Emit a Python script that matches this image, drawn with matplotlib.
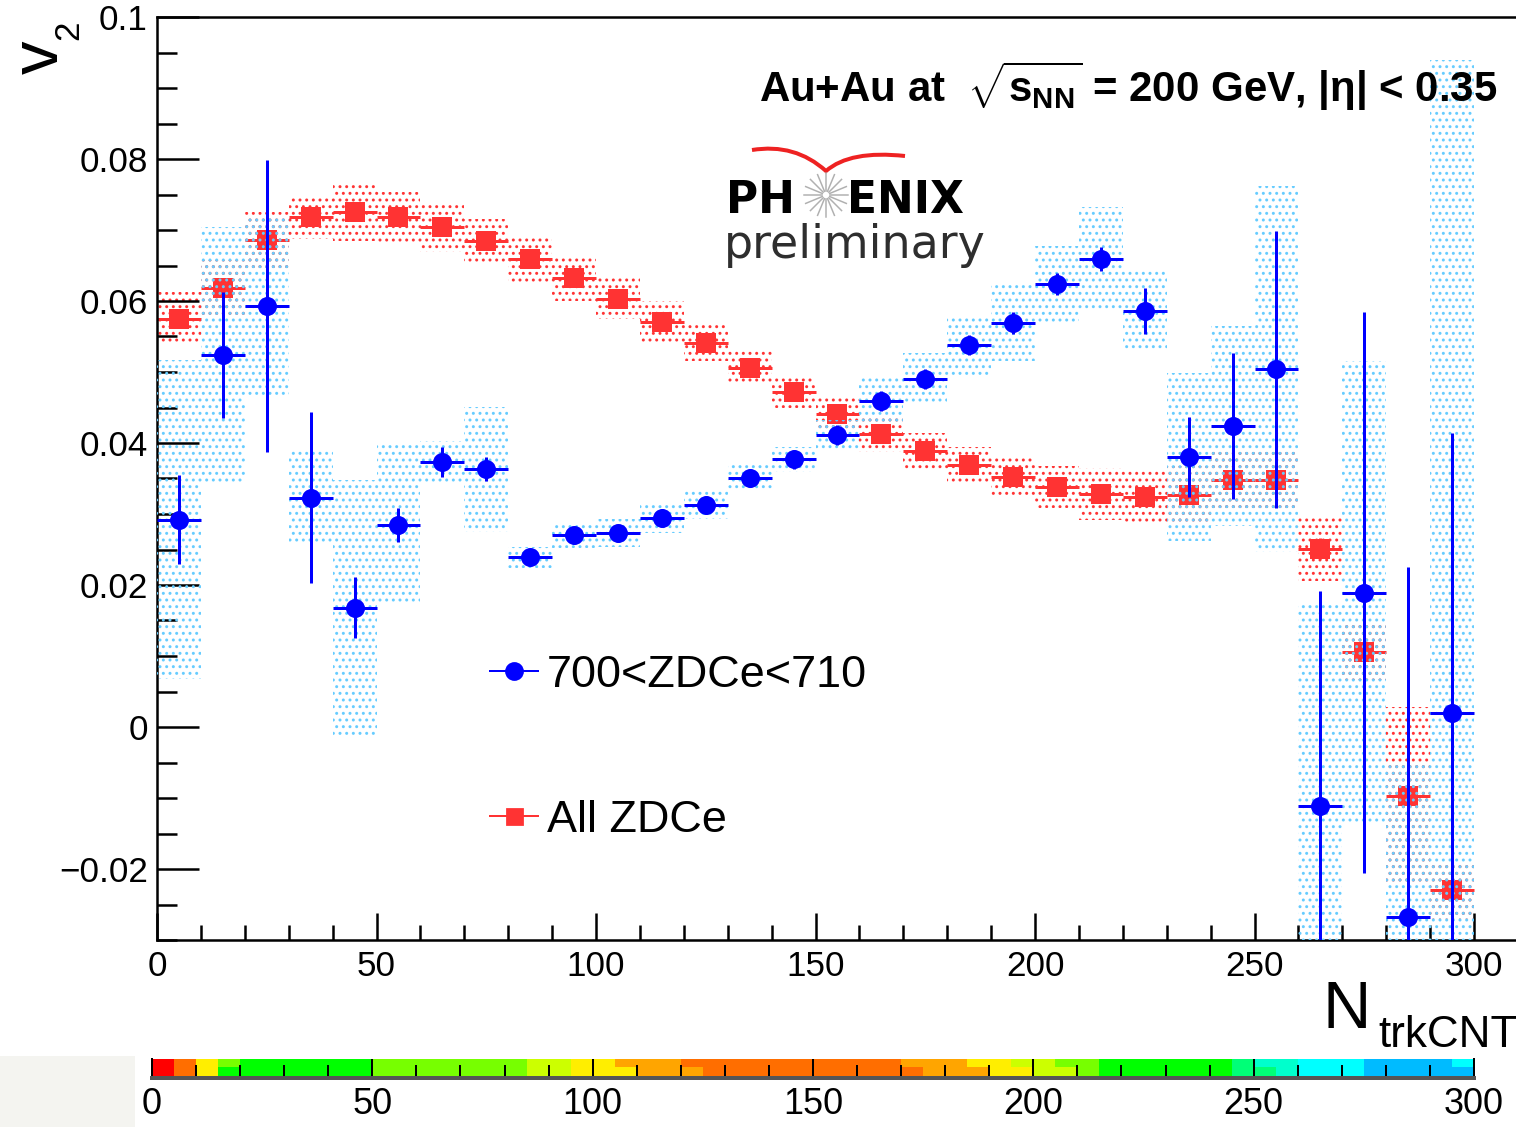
import numpy as np
import matplotlib
matplotlib.use('Agg')
import matplotlib.pyplot as plt
from matplotlib.lines import Line2D
from matplotlib.path import Path
from matplotlib.patches import PathPatch, Rectangle

W, H, DPI = 1516, 1127, 200

plt.rcParams['font.family'] = ['Liberation Sans', 'DejaVu Sans']
plt.rcParams['mathtext.fontset'] = 'custom'
plt.rcParams['mathtext.rm'] = 'Liberation Sans:bold'
plt.rcParams['mathtext.it'] = 'Liberation Sans:bold'
plt.rcParams['mathtext.bf'] = 'Liberation Sans:bold'
plt.rcParams['hatch.linewidth'] = 0.6


def pt(p):
    # pixel size -> points
    return p * 72.0 / DPI


def fx(x):
    # pixel column -> figure fraction
    return x / W


def fy(y):
    # pixel row (from the top) -> figure fraction
    return 1 - y / H


# ── data ────────────────────────────────────────────────────
ntrk = np.arange(5, 300, 10)   # bin centres, bin width 10

# 700 < ZDCe < 710
v2_zdc = np.array([0.0292, 0.0524, 0.0593, 0.0323, 0.0168, 0.0285, 0.0373, 0.0363,
                   0.0239, 0.0270, 0.0273, 0.0294, 0.0313, 0.0351, 0.0377, 0.0411,
                   0.0459, 0.0490, 0.0538, 0.0569, 0.0624, 0.0659, 0.0586, 0.0380,
                   0.0424, 0.0504, -0.0111, 0.0189, -0.0268, 0.0020])
stat_zdc = np.array([0.0063, 0.0089, 0.0205, 0.0120, 0.0043, 0.0024, 0.0021, 0.0017,
                     0.0012, 0.0012, 0.0012, 0.0013, 0.0013, 0.0013, 0.0013, 0.0014,
                     0.0014, 0.0014, 0.0014, 0.0015, 0.0016, 0.0017, 0.0032, 0.0056,
                     0.0103, 0.0195, 0.0303, 0.0395, 0.0494, 0.0394])
sys_zdc = np.array([0.0225, 0.0180, 0.0125, 0.0067, 0.0180, 0.0112, 0.0030, 0.0088,
                    0.0015, 0.0018, 0.0020, 0.0021, 0.0020, 0.0018, 0.0018, 0.0021,
                    0.0032, 0.0037, 0.0042, 0.0054, 0.0054, 0.0073, 0.0056, 0.0118,
                    0.0141, 0.0258, 0.0285, 0.0327, 0.0215, 0.0920])

# All ZDCe
v2_all = np.array([0.0575, 0.0618, 0.0686, 0.0718, 0.0725, 0.0718, 0.0704, 0.0685,
                   0.0659, 0.0632, 0.0603, 0.0570, 0.0541, 0.0506, 0.0472, 0.0441,
                   0.0413, 0.0389, 0.0369, 0.0352, 0.0338, 0.0328, 0.0324, 0.0327,
                   0.0348, 0.0348, 0.0251, 0.0106, -0.0097, -0.0230])
stat_all = np.array([0.0010] * 26 + [0.0015, 0.0017, 0.0023, 0.0042])
sys_all = np.array([0.0037, 0.0040, 0.0040, 0.0030, 0.0040, 0.0035, 0.0035, 0.0030,
                    0.0032, 0.0032, 0.0029, 0.0030, 0.0026, 0.0025, 0.0023, 0.0022,
                    0.0025, 0.0025, 0.0025, 0.0027, 0.0030, 0.0037, 0.0038, 0.0040,
                    0.0040, 0.0040, 0.0046, 0.0040, 0.0125, 0.0040])

labels = ['700<ZDCe<710', 'All ZDCe']

yticks = [-0.02, 0.0, 0.02, 0.04, 0.06, 0.08, 0.1]
ytick_labels = ['\u22120.02', '0', '0.02', '0.04', '0.06', '0.08', '0.1']

# colour strip under the plot, 5-unit cells from 0 to 300, as (colour, n cells)
palette = {'R': '#ff0000', 'O': '#ff6e00', 'OR': '#ffa500', 'Y': '#ffee00',
           'YG': '#ccff00', 'LG': '#77ff00', 'G': '#00ff00', 'SG': '#00ff77',
           'AQ': '#00ffcc', 'C': '#00ffff', 'B': '#00bbff'}
strip_top = [('R', 1), ('O', 1), ('Y', 1), ('LG', 1), ('G', 6), ('LG', 7), ('YG', 2),
             ('Y', 2), ('OR', 3), ('O', 10), ('OR', 3), ('Y', 2), ('YG', 2), ('LG', 2),
             ('G', 6), ('SG', 1), ('AQ', 2), ('C', 3), ('B', 4), ('C', 1)]
strip_bot = [('R', 1), ('O', 1), ('Y', 1), ('G', 7), ('LG', 7), ('YG', 2), ('Y', 3),
             ('OR', 3), ('O', 10), ('OR', 3), ('Y', 2), ('YG', 2), ('LG', 1),
             ('G', 6), ('SG', 2), ('AQ', 1), ('C', 3), ('B', 5)]

BLUE = '#0000ff'
RED = '#ff3333'
LBLUE = '#66ccff'

# ── figure ──────────────────────────────────────────────────
fig = plt.figure(figsize=(W / DPI, H / DPI), dpi=DPI)
fig.patch.set_facecolor('white')

# main frame: 4.39 px per unit of N, runs off the right edge like the original
ax = fig.add_axes([fx(157), fy(940), 320 * 4.39 / W, (940 - 17) / H])
ax.set_xlim(0, 320)
ax.set_ylim(-0.03, 0.1)

# systematic boxes (dotted fill) + stat bars
ax.bar(ntrk, 2 * sys_all, bottom=v2_all - sys_all, width=10, fill=False,
       hatch='.....', edgecolor=RED, lw=0, zorder=1)
ax.errorbar(ntrk, v2_all, xerr=5, yerr=stat_all, fmt='s', color=RED,
            ms=pt(20), mew=0, elinewidth=pt(3), capsize=0, zorder=2)
ax.bar(ntrk, 2 * sys_zdc, bottom=v2_zdc - sys_zdc, width=10, fill=False,
       hatch='.....', edgecolor=LBLUE, lw=0, zorder=3)
ax.errorbar(ntrk, v2_zdc, xerr=5, yerr=stat_zdc, fmt='o', color=BLUE,
            ms=pt(19), mew=0, elinewidth=pt(3), capsize=0, zorder=4)

ax.set_xticks(np.arange(0, 301, 50))
ax.set_xticks(np.arange(0, 321, 10), minor=True)
ax.set_yticks(yticks)
ax.set_yticklabels(ytick_labels)
ax.set_yticks(np.arange(-0.03, 0.1001, 0.005), minor=True)
ax.tick_params(axis='both', which='both', direction='in', width=pt(2.5),
               labelsize=pt(35), top=False, right=False)
ax.tick_params(axis='y', which='major', length=pt(42), pad=pt(9))
ax.tick_params(axis='y', which='minor', length=pt(20))
ax.tick_params(axis='x', which='major', length=pt(27), pad=pt(10))
ax.tick_params(axis='x', which='minor', length=pt(15))
for s in ax.spines.values():
    s.set_linewidth(pt(2.5))

# legend
handles = [Line2D([], [], color=BLUE, marker='o', ms=pt(16), lw=pt(2)),
           Line2D([], [], color=RED, marker='s', ms=pt(15), lw=pt(2))]
ax.legend(handles, labels, loc='upper left', bbox_to_anchor=(fx(490), fy(655)),
          bbox_transform=fig.transFigure, frameon=False, fontsize=pt(45),
          handlelength=1.07, handletextpad=0.2, labelspacing=2.3,
          borderpad=0, borderaxespad=0)

# axis titles
fig.text(fx(1322), fy(1028), 'N', fontsize=pt(67), va='baseline', ha='left')
fig.text(fx(1378), fy(1047), 'trkCNT', fontsize=pt(44), va='baseline', ha='left')
fig.text(fx(58), fy(74), 'v', fontsize=pt(67), rotation=90, rotation_mode='anchor',
         va='baseline', ha='left')
fig.text(fx(78), fy(40), '2', fontsize=pt(35), rotation=90, rotation_mode='anchor',
         va='baseline', ha='left')

# header
fig.text(fx(1497), fy(102), r'Au+Au at  $\sqrt{s_{NN}}$ = 200 GeV, |η| < 0.35',
         fontsize=pt(42), fontweight='bold', ha='right', va='baseline')

# PHENIX preliminary logo
logo = ['DejaVu Sans']
fig.text(fx(726), fy(213), 'PH', fontsize=pt(44), fontweight='bold', family=logo,
         va='baseline', ha='left')
fig.text(fx(847), fy(213), 'ENIX', fontsize=pt(44), fontweight='bold', family=logo,
         va='baseline', ha='left')
fig.text(fx(724), fy(258), 'preliminary', fontsize=pt(46), family=logo,
         color='#2e2e2e', va='baseline', ha='left')
cx, cy = 826, 195
for a in np.linspace(0, 2 * np.pi, 16, endpoint=False):
    fig.add_artist(Line2D([fx(cx + 4 * np.cos(a)), fx(cx + 22 * np.cos(a))],
                          [fy(cy + 4 * np.sin(a)), fy(cy + 22 * np.sin(a))],
                          color='#b0b0b0', lw=pt(1.5)))
swoosh = Path([(fx(752), fy(150)), (fx(795), fy(143)), (fx(826), fy(171)),
               (fx(850), fy(150)), (fx(905), fy(156))],
              [Path.MOVETO, Path.CURVE3, Path.CURVE3, Path.CURVE3, Path.CURVE3])
fig.add_artist(PathPatch(swoosh, fill=False, edgecolor='#ee2222', lw=pt(4),
                         transform=fig.transFigure))

# colour strip at the bottom, light grey margin on its left
fig.add_artist(Rectangle((0, 0), fx(135), fy(1056), transform=fig.transFigure,
                         facecolor='#f4f4f0', edgecolor='none', zorder=0))
cax = fig.add_axes([fx(152), fy(1078), (1474 - 152) / W, (1078 - 1059) / H])
cax.set_xlim(0, 300)
cax.set_ylim(0, 1)
for runs, bottom, height in [(strip_bot, 0.0, 0.6), (strip_top, 0.6, 0.4)]:
    cols = [palette[k] for k, n in runs for _ in range(n)]
    cax.bar(np.arange(len(cols)) * 5, height, bottom=bottom, width=5, align='edge',
            color=cols, lw=0)
cax.set_yticks([])
cax.set_xticks(np.arange(0, 301, 50))
cax.set_xticks(np.arange(0, 301, 10), minor=True)
cax.tick_params(axis='x', which='major', direction='in', length=pt(19), width=pt(2),
                labelsize=pt(36), pad=pt(9))
cax.tick_params(axis='x', which='minor', direction='in', length=pt(13), width=pt(2))
cax.spines['top'].set_visible(False)
cax.spines['bottom'].set_color('#555555')
cax.spines['bottom'].set_linewidth(pt(4))
for side in ['left', 'right']:
    cax.spines[side].set_linewidth(pt(2))

fig.savefig('out.png', dpi=DPI)
